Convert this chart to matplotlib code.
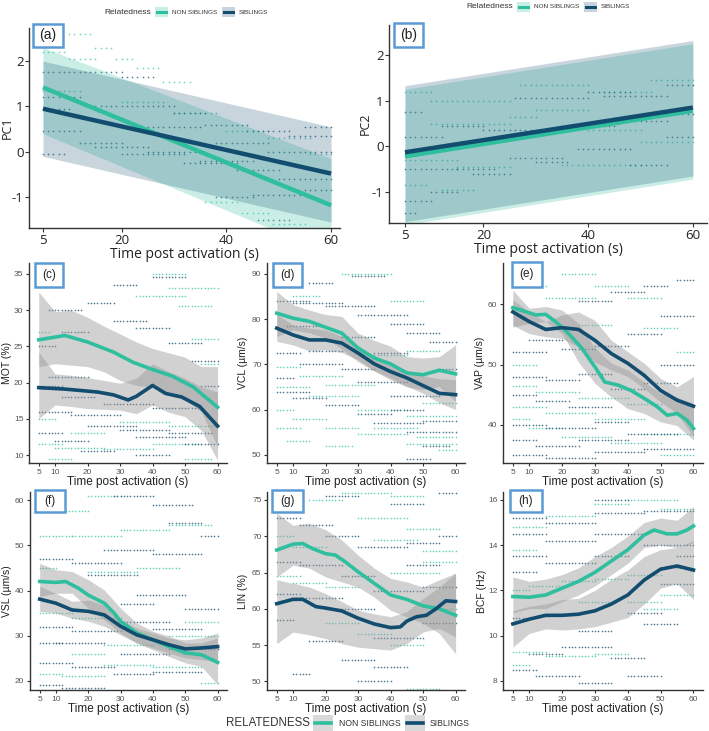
import matplotlib.pyplot as plt
from matplotlib.patches import Rectangle
from matplotlib.lines import Line2D

plt.rcParams['font.family'] = ['Liberation Sans', 'DejaVu Sans']
plt.rcParams['axes.unicode_minus'] = False

TEAL = '#2fbf9f'
NAVY = '#124d70'
TEAL_PT = '#4fcbb0'
NAVY_PT = '#33627f'
BOXBLUE = '#5b9bd5'
W, H = 709, 731

# ---------------- data ----------------
# (a) PC1 linear fits
a_t = [5, 60]
a_non = [1.42, -1.18]
a_sib = [0.95, -0.48]
a_non_lo, a_non_hi = [0.40, -2.25], [2.30, -0.15]
a_sib_lo, a_sib_hi = [-0.10, -1.55], [2.00, 0.55]
# (b) PC2 linear fits
b_t = [5, 60]
b_non = [-0.22, 0.78]
b_sib = [-0.13, 0.85]
b_non_lo, b_non_hi = [-1.72, -0.72], [1.25, 2.25]
b_sib_lo, b_sib_hi = [-1.65, -0.65], [1.33, 2.32]

# raw track runs: (t_start, t_end, value)
a_non_runs = [(10, 14, 2.6), (15, 18, 2.3), (19, 22, 2.05), (23, 27, 1.85), (28, 33, 1.55),
              (5, 9, 2.2), (10, 15, 2.05), (36, 42, -1.1), (43, 48, -1.35), (49, 55, -1.6),
              (40, 48, 0.45), (48, 56, 0.3), (56, 60, -0.05), (30, 38, 0.85), (5, 12, 1.35),
              (20, 28, 1.1)]
a_sib_runs = [(5, 20, 1.75), (20, 26, 1.65), (13, 30, 1.0), (30, 36, 0.85), (36, 44, 0.6),
              (44, 52, 0.45), (52, 60, 0.35), (5, 12, 0.45), (12, 20, 0.2), (20, 32, -0.05),
              (32, 42, -0.25), (42, 50, -0.4), (50, 60, -0.6), (15, 25, 0.1), (25, 35, 0.0),
              (35, 45, -0.2), (45, 55, -0.95), (55, 60, -0.85), (5, 9, -0.05), (38, 45, -1.0),
              (46, 52, -1.5), (5, 10, 0.95), (25, 35, 0.55), (38, 48, 0.2), (48, 60, 0.0),
              (55, 60, 0.55), (5, 12, 1.2)]
b_non_runs = [(5, 10, 1.2), (10, 25, 1.0), (27, 40, 1.35), (43, 52, 1.2), (52, 60, 1.45),
              (10, 25, 0.5), (25, 30, 0.65), (30, 40, 0.8), (5, 15, -0.3), (15, 25, -0.45),
              (35, 50, -0.4), (50, 60, 0.1), (5, 9, -0.85), (12, 18, -0.95), (40, 50, 0.35)]
b_sib_runs = [(5, 8, 0.75), (26, 40, 1.05), (43, 55, 1.1), (55, 60, 1.35), (5, 12, 0.2),
              (12, 20, 0.45), (35, 45, 0.45), (45, 55, 0.55), (55, 60, 0.7), (5, 15, -0.5),
              (15, 22, -0.5), (25, 35, -0.25), (38, 48, -0.05), (48, 55, -0.4), (55, 60, 0.2),
              (5, 10, -1.2), (10, 15, -1.0), (20, 30, 0.35), (30, 36, -0.35), (5, 7, -1.45),
              (18, 25, -0.6), (40, 48, 1.2)]

# loess panels, ribbons at these times
rib_t = [5, 10, 15, 20, 25, 30, 35, 40, 45, 50, 55, 60]

c_non_t = [5, 13, 20, 28, 34, 40, 46, 52.5, 60]
c_non = [25.9, 26.5, 25.6, 24.2, 22.8, 21.8, 20.9, 19.4, 16.6]
c_sib_t = [5, 13, 23, 28, 32.5, 35, 40, 44, 49, 54.5, 60]
c_sib = [19.3, 19.1, 18.7, 18.3, 17.6, 18.1, 19.6, 18.5, 18.0, 16.7, 14.0]
c_non_hi = [32.5, 29.8, 30.0, 29.0, 27.8, 26.7, 25.6, 24.7, 24.1, 23.5, 22.2, 22.2]
c_non_lo = [22.2, 22.6, 22.4, 22.2, 21.5, 20.3, 19.6, 19.4, 18.5, 17.6, 16.0, 11.1]
c_sib_hi = [24.2, 21.2, 21.0, 20.7, 20.3, 19.9, 20.6, 22.6, 21.5, 20.6, 19.4, 18.7]
c_sib_lo = [15.0, 16.9, 16.7, 16.4, 16.3, 16.2, 15.7, 16.9, 15.9, 15.3, 13.4, 9.3]

d_non = [81.3, 80.2, 79.5, 78.2, 76.9, 73.6, 71.4, 70.1, 68.1, 67.7, 68.7, 67.9]
d_sib = [78.0, 76.5, 75.4, 75.4, 74.7, 72.5, 70.1, 68.4, 67.0, 65.3, 63.6, 63.3]
d_non_hi = [86.1, 83.2, 82.0, 81.0, 80.6, 76.9, 75.3, 74.0, 71.7, 71.4, 71.7, 74.3]
d_non_lo = [76.2, 77.6, 77.0, 75.8, 73.4, 70.6, 68.5, 66.6, 65.0, 64.4, 65.1, 61.8]
d_sib_hi = [81.0, 78.7, 78.0, 77.6, 76.2, 74.0, 72.0, 69.9, 68.7, 67.5, 66.8, 66.6]
d_sib_lo = [75.1, 74.3, 73.0, 73.2, 72.6, 71.0, 68.6, 67.0, 65.2, 63.6, 61.5, 60.0]

e_non_t = [5, 8, 12, 15, 18, 22, 26, 30, 33, 37, 41, 45, 49, 52, 55, 58, 60]
e_non = [59.4, 58.9, 58.2, 58.3, 57.1, 55.1, 52.7, 49.6, 47.1, 46.6, 45.7, 44.4, 43.0,
         41.6, 41.9, 40.8, 39.4]
e_sib = [58.7, 57.1, 55.8, 56.1, 55.8, 54.0, 51.8, 50.2, 48.2, 45.7, 44.1, 43.1]
e_non_hi = [62.3, 59.3, 59.6, 59.0, 56.8, 52.7, 50.2, 49.1, 47.1, 45.2, 44.6, 43.5]
e_non_lo = [56.2, 56.8, 57.1, 55.1, 50.4, 46.9, 44.6, 42.7, 41.9, 40.5, 39.9, 37.5]
e_sib_hi = [60.7, 58.7, 57.1, 58.2, 58.7, 57.3, 54.0, 52.1, 50.2, 47.7, 46.3, 48.0]
e_sib_lo = [56.5, 55.1, 54.6, 54.3, 52.9, 50.4, 49.1, 48.0, 46.0, 43.8, 41.9, 38.0]

f_non_t = [5, 10, 13, 17, 20, 25, 28, 30, 35, 40, 45, 50, 55, 60]
f_non = [42.0, 41.8, 42.0, 40.5, 39.0, 37.2, 35.0, 33.2, 30.6, 29.1, 27.6, 26.2, 25.8, 24.1]
f_sib = [38.1, 37.2, 35.7, 35.4, 34.6, 32.1, 30.2, 29.1, 28.0, 27.1, 27.3, 27.6]
f_non_hi = [46.0, 44.6, 44.2, 42.4, 40.1, 36.1, 32.8, 31.0, 29.9, 28.4, 28.4, 29.5]
f_non_lo = [38.7, 39.4, 39.4, 36.1, 33.5, 30.6, 28.4, 26.9, 25.4, 24.0, 23.2, 19.2]
f_sib_hi = [40.9, 39.4, 37.6, 37.9, 36.8, 33.5, 31.7, 30.6, 29.5, 29.1, 29.5, 30.6]
f_sib_lo = [35.4, 35.0, 33.9, 33.2, 32.1, 30.2, 28.4, 27.3, 26.2, 25.1, 24.7, 24.3]

g_non_t = [5, 10, 13, 16, 20, 23, 26, 30, 35, 40, 45, 50, 55, 60]
g_non = [68.1, 68.9, 69.0, 68.3, 67.6, 67.4, 66.5, 65.1, 63.5, 61.9, 61.3, 60.4, 60.0, 59.1]
g_sib_t = [5, 10, 13, 17, 20, 25, 30, 35, 40, 43, 45, 48, 51, 54, 57, 60]
g_sib = [60.7, 61.3, 61.3, 60.3, 60.1, 59.7, 58.7, 57.9, 57.4, 57.5, 58.3, 58.9, 59.1,
         60.0, 61.1, 61.0]
g_non_hi = [73.2, 71.5, 71.8, 70.9, 69.5, 67.4, 65.6, 64.2, 63.7, 63.0, 64.0, 64.9]
g_non_lo = [64.4, 66.0, 65.6, 64.4, 63.7, 63.0, 61.6, 59.8, 58.9, 58.0, 56.6, 53.8]
g_sib_hi = [64.0, 63.5, 63.0, 62.1, 61.0, 59.8, 59.3, 58.9, 59.6, 61.4, 63.0, 64.9]
g_sib_lo = [55.2, 56.8, 56.4, 55.9, 55.2, 54.7, 54.5, 54.3, 55.2, 56.8, 57.3, 56.1]

h_non_t = [5, 10, 15, 20, 25, 30, 35, 40, 45, 48, 52, 55, 58, 60]
h_non = [11.73, 11.70, 11.8, 12.1, 12.4, 12.8, 13.3, 13.8, 14.45, 14.67, 14.5, 14.5, 14.67, 14.85]
h_sib = [10.52, 10.73, 10.9, 10.9, 10.95, 11.1, 11.4, 11.8, 12.46, 12.94, 13.08, 12.9]
h_non_hi = [12.6, 12.4, 12.5, 12.7, 13.0, 13.5, 13.9, 14.4, 15.0, 15.2, 15.1, 15.7]
h_non_lo = [11.0, 11.2, 11.2, 11.5, 11.8, 12.2, 12.7, 13.2, 13.9, 14.0, 13.9, 14.1]
h_sib_hi = [11.1, 11.3, 11.4, 11.6, 11.65, 12.0, 12.5, 12.9, 13.5, 13.8, 13.9, 14.2]
h_sib_lo = [9.5, 10.1, 10.3, 10.25, 10.3, 10.4, 10.6, 10.8, 11.4, 12.1, 12.3, 11.6]

c_non_runs = [(5, 12, 11.5), (10, 25, 11.0), (25, 40, 10.8), (40, 55, 11.5), (30, 45, 14.5),
              (45, 60, 14.0), (5, 10, 15.0), (8, 15, 9.5), (35, 50, 32.0), (45, 60, 33.0),
              (48, 58, 30.5), (52, 60, 26.0), (40, 50, 35.0), (55, 60, 22.5), (5, 8, 27.0),
              (50, 58, 9.5), (15, 25, 13.0)]
c_sib_runs = [(5, 12, 19.5), (8, 20, 20.8), (12, 22, 18.0), (5, 15, 16.0), (15, 30, 15.5),
              (20, 35, 14.0), (30, 45, 13.5), (35, 50, 12.5), (5, 12, 13.0), (10, 20, 12.0),
              (45, 58, 13.0), (50, 60, 11.5), (25, 40, 17.0), (40, 55, 16.5), (8, 18, 30.0),
              (20, 28, 31.0), (28, 38, 28.5), (35, 45, 27.5), (45, 55, 25.5), (52, 60, 23.0),
              (28, 35, 33.5), (40, 50, 34.5), (18, 28, 10.5), (35, 45, 10.0), (12, 20, 27.0),
              (5, 10, 25.0), (55, 60, 19.5)]
d_non_runs = [(5, 10, 60), (10, 20, 58), (20, 30, 56), (30, 45, 54.5), (45, 60, 52.5),
              (5, 15, 65), (15, 30, 63), (30, 45, 60), (45, 60, 58.5), (5, 12, 69.5),
              (12, 25, 67.5), (35, 48, 56), (48, 60, 54), (20, 35, 65.5), (5, 12, 56),
              (20, 28, 52), (35, 45, 72), (45, 55, 73), (10, 18, 85), (25, 40, 90),
              (40, 50, 84), (55, 60, 51), (50, 60, 61.5), (8, 15, 53)]
d_sib_runs = [(5, 15, 84), (10, 25, 83.5), (20, 35, 83), (30, 45, 81), (40, 50, 79),
              (45, 55, 77), (52, 60, 75), (5, 12, 72.5), (12, 25, 70), (25, 35, 69),
              (30, 45, 66), (40, 55, 63), (5, 15, 64), (10, 20, 62.5), (20, 30, 61),
              (30, 40, 59), (35, 50, 57), (45, 60, 55), (50, 60, 57.5), (40, 50, 60),
              (15, 25, 73), (25, 35, 76), (5, 10, 67), (50, 58, 52), (45, 52, 49),
              (35, 45, 72.5), (8, 18, 78.5), (55, 60, 69), (15, 22, 88), (28, 38, 89.5)]
e_non_runs = [(5, 12, 46.5), (12, 25, 45.5), (25, 40, 44.5), (40, 50, 43.5), (5, 15, 43),
              (15, 30, 42), (30, 45, 41), (45, 60, 38.5), (5, 10, 41), (10, 20, 39.5),
              (20, 35, 38), (35, 50, 37), (50, 60, 35), (15, 30, 61), (20, 30, 65),
              (30, 40, 63), (40, 50, 61), (45, 55, 56), (5, 12, 50), (55, 60, 52),
              (8, 15, 63), (25, 35, 56.5)]
e_sib_runs = [(5, 15, 35), (15, 30, 34.5), (30, 45, 35.5), (45, 60, 36), (5, 12, 37.5),
              (12, 25, 36.5), (25, 40, 37.5), (40, 55, 38.5), (5, 15, 40), (15, 30, 39.5),
              (30, 40, 40.5), (5, 12, 45), (12, 22, 44), (22, 35, 43), (5, 15, 48),
              (15, 25, 47.5), (25, 35, 48.5), (35, 45, 46), (45, 55, 47), (50, 60, 50),
              (5, 15, 52), (20, 30, 52.5), (30, 40, 53), (40, 50, 55), (10, 20, 54),
              (50, 60, 58), (25, 35, 60.5), (35, 45, 62), (55, 60, 64), (45, 52, 63)]
f_non_runs = [(5, 15, 52), (15, 30, 52), (30, 45, 53.5), (45, 58, 54.5), (10, 20, 57.5),
              (20, 30, 61), (5, 15, 35), (15, 30, 34), (5, 12, 21.5), (12, 25, 21),
              (25, 40, 23.5), (40, 55, 23), (20, 35, 44), (35, 48, 45), (5, 10, 45),
              (25, 40, 28), (45, 60, 30), (50, 60, 33), (15, 25, 26), (55, 60, 19.5)]
f_sib_runs = [(5, 15, 47), (15, 30, 46), (28, 40, 61), (40, 52, 59), (25, 40, 49),
              (40, 55, 48), (5, 15, 32), (15, 30, 31), (30, 45, 33), (40, 55, 31.5),
              (5, 15, 24), (15, 28, 23), (28, 40, 21.5), (40, 55, 22), (5, 12, 19),
              (12, 25, 18.5), (30, 45, 26), (45, 60, 27), (10, 25, 28.5), (20, 35, 43.5),
              (35, 50, 39), (50, 60, 36), (55, 60, 52), (45, 55, 55), (5, 12, 28.5),
              (30, 40, 37)]
g_non_runs = [(5, 12, 64.5), (10, 20, 63.5), (20, 30, 63), (25, 40, 76), (40, 50, 75.5),
              (30, 45, 72.5), (45, 55, 71), (50, 60, 68), (35, 48, 69.5), (15, 25, 75),
              (40, 55, 65), (50, 60, 66.5), (5, 10, 70), (10, 20, 68.5), (30, 40, 56.5),
              (40, 50, 55), (45, 55, 49), (20, 30, 58), (55, 60, 60)]
g_sib_runs = [(5, 12, 72.5), (12, 22, 71.5), (20, 30, 70), (30, 45, 68.5), (45, 55, 69),
              (55, 60, 70), (5, 12, 66.5), (12, 25, 66), (25, 35, 64.5), (35, 50, 62.5),
              (50, 60, 63), (5, 12, 62), (12, 25, 61.5), (20, 35, 60), (35, 50, 56),
              (50, 60, 58), (15, 25, 55.5), (25, 35, 53), (35, 45, 52), (5, 10, 58.5),
              (45, 55, 66), (10, 15, 51), (30, 40, 50), (20, 30, 75.5), (40, 50, 74.5),
              (55, 60, 76)]
h_non_runs = [(5, 15, 14.8), (15, 30, 15.3), (30, 40, 15.8), (40, 55, 16), (50, 60, 15.6),
              (5, 10, 12), (10, 20, 12.2), (20, 30, 12.4), (30, 40, 12.5), (40, 50, 12.7),
              (5, 15, 9.3), (15, 30, 9.1), (30, 40, 9.2), (5, 10, 8.7), (40, 50, 11.5),
              (50, 60, 11.8), (45, 55, 11.2), (25, 35, 11.5), (5, 12, 13.8), (55, 60, 13)]
h_sib_runs = [(5, 15, 15.2), (15, 30, 15), (30, 45, 15.4), (45, 60, 15.5), (5, 15, 14.5),
              (15, 30, 14.2), (30, 45, 14.5), (45, 60, 14), (5, 15, 13.5), (15, 30, 13.2),
              (30, 40, 13.5), (5, 12, 12.8), (10, 20, 9.2), (20, 35, 9.5), (35, 45, 9),
              (5, 12, 8.5), (12, 25, 8.2), (25, 35, 7.9), (40, 50, 8.2), (40, 50, 11),
              (45, 55, 10.5), (50, 60, 12.3), (5, 10, 10.8), (25, 35, 10.2), (55, 60, 13.5),
              (30, 40, 16)]


def expand(runs):
    tt, vv = [], []
    for t0, t1, v in runs:
        for s in range(t0, t1 + 1):
            tt.append(s)
            vv.append(v)
    return tt, vv


fig = plt.figure(figsize=(7.09, 7.31), dpi=100)


def add_ax(l, r, t, b):
    return fig.add_axes([l / W, 1 - b / H, (r - l) / W, (b - t) / H])


def fx(x):
    return x / W


def fy(y):
    return 1 - y / H


def style(ax, big):
    for s in ['top', 'right']:
        ax.spines[s].set_visible(False)
    for s in ['left', 'bottom']:
        ax.spines[s].set_color('#333333')
        ax.spines[s].set_linewidth(1.0)
    if big:
        ax.tick_params(labelsize=9.5, colors='#333333', length=3, width=0.8,
                       labelcolor='#222222', pad=1)
    else:
        ax.tick_params(labelsize=6, colors='#333333', length=2.5, width=0.8,
                       labelcolor='#555555', pad=1.5)


def tag(l, t, r, b, text, size):
    fig.add_artist(Rectangle((fx(l), fy(b)), (r - l) / W, (b - t) / H,
                             transform=fig.transFigure, fc='white', ec=BOXBLUE, lw=1.8,
                             zorder=10))
    fig.text(fx((l + r) / 2), fy((t + b) / 2), text, ha='center', va='center',
             fontsize=size, color='#222222', zorder=11)


# ---------------- (a) and (b) ----------------
def lin_panel(ax, t, non, sib, nlo, nhi, slo, shi, nruns, sruns, xlim, ylim, ylab, lx):
    tn, vn = expand(nruns)
    ts, vs = expand(sruns)
    ax.scatter(tn, vn, s=1.5, color=TEAL_PT, alpha=0.8, lw=0, zorder=1)
    ax.scatter(ts, vs, s=1.5, color=NAVY_PT, alpha=0.8, lw=0, zorder=1)
    ax.fill_between(t, nlo, nhi, color=TEAL, alpha=0.25, lw=0, zorder=2)
    ax.fill_between(t, slo, shi, color=NAVY, alpha=0.23, lw=0, zorder=2)
    ax.plot(t, non, color=TEAL, lw=3.2, solid_capstyle='butt', zorder=3)
    ax.plot(t, sib, color=NAVY, lw=3.2, solid_capstyle='butt', zorder=4)
    ax.set_xlim(*xlim)
    ax.set_ylim(*ylim)
    ax.set_xticks([5, 20, 40, 60])
    ax.set_yticks([-1, 0, 1, 2])
    style(ax, True)
    ax.set_xlabel('Time post activation (s)', fontsize=10, color='#222222',
                  family=['Open Sans', 'DejaVu Sans'], labelpad=0)
    ax.set_ylabel(ylab, fontsize=9, color='#222222', family=['Open Sans', 'DejaVu Sans'])
    ax.yaxis.set_label_coords(lx, 0.5)
    for lab in ax.get_xticklabels() + ax.get_yticklabels():
        lab.set_family(['Open Sans', 'DejaVu Sans'])


ax_a = add_ax(29, 340, 28, 228)
lin_panel(ax_a, a_t, a_non, a_sib, a_non_lo, a_non_hi, a_sib_lo, a_sib_hi,
          a_non_runs, a_sib_runs, (2.33, 61.7), (-1.68, 2.73), 'PC1', -0.048)
ax_b = add_ax(389, 707, 25, 223)
lin_panel(ax_b, b_t, b_non, b_sib, b_non_lo, b_non_hi, b_sib_lo, b_sib_hi,
          b_non_runs, b_sib_runs, (1.95, 62.7), (-1.68, 2.66), 'PC2', -0.053)


# ---------------- (c)-(h) ----------------
def loess_panel(box, nt, non, st, sib, nlo, nhi, slo, shi, nruns, sruns,
                ylim, yticks, ylab, lx):
    ax = add_ax(*box)
    tn, vn = expand(nruns)
    ts, vs = expand(sruns)
    ax.scatter(tn, vn, s=1.4, color=TEAL_PT, alpha=0.85, lw=0, zorder=1)
    ax.scatter(ts, vs, s=1.4, color=NAVY_PT, alpha=0.85, lw=0, zorder=1)
    ax.fill_between(rib_t, nlo, nhi, color='#999999', alpha=0.45, lw=0, zorder=2)
    ax.fill_between(rib_t, slo, shi, color='#999999', alpha=0.45, lw=0, zorder=2)
    ax.plot(nt, non, color=TEAL, lw=2.6, solid_joinstyle='round', zorder=3)
    ax.plot(st, sib, color=NAVY, lw=2.6, solid_joinstyle='round', zorder=4)
    ax.set_xlim(2.0, 62.9)
    ax.set_ylim(*ylim)
    ax.set_xticks([5, 10, 20, 30, 40, 50, 60])
    ax.set_yticks(yticks)
    style(ax, False)
    ax.set_xlabel('Time post activation (s)', fontsize=8.5, color='#222222', labelpad=0)
    ax.set_ylabel(ylab, fontsize=7.5, color='#222222')
    ax.yaxis.set_label_coords(lx, 0.5)
    return ax


loess_panel((29, 227, 263, 463), c_non_t, c_non, c_sib_t, c_sib, c_non_lo, c_non_hi,
            c_sib_lo, c_sib_hi, c_non_runs, c_sib_runs, (8.9, 36.5),
            [10, 15, 20, 25, 30, 35], 'MOT (%)', -0.088)
loess_panel((267, 465, 263, 463), rib_t, d_non, rib_t, d_sib, d_non_lo, d_non_hi,
            d_sib_lo, d_sib_hi, d_non_runs, d_sib_runs, (48.2, 92.4),
            [50, 60, 70, 80, 90], 'VCL (µm/s)', -0.095)
loess_panel((503, 703, 263, 463), e_non_t, e_non, rib_t, e_sib, e_non_lo, e_non_hi,
            e_sib_lo, e_sib_hi, e_non_runs, e_sib_runs, (33.7, 66.8),
            [40, 50, 60], 'VAP (µm/s)', -0.09)
loess_panel((30, 227, 492, 690), f_non_t, f_non, rib_t, f_sib, f_non_lo, f_non_hi,
            f_sib_lo, f_sib_hi, f_non_runs, f_sib_runs, (18.0, 61.8),
            [20, 30, 40, 50, 60], 'VSL (µm/s)', -0.09)
loess_panel((267, 465, 492, 690), g_non_t, g_non, g_sib_t, g_sib, g_non_lo, g_non_hi,
            g_sib_lo, g_sib_hi, g_non_runs, g_sib_runs, (48.8, 76.1),
            [50, 55, 60, 65, 70, 75], 'LIN (%)', -0.095)
loess_panel((503, 703, 492, 690), h_non_t, h_non, rib_t, h_sib, h_non_lo, h_non_hi,
            h_sib_lo, h_sib_hi, h_non_runs, h_sib_runs, (7.6, 16.35),
            [8, 10, 12, 14, 16], 'BCF (Hz)', -0.08)

# ---------------- panel tags ----------------
tag(33, 24, 63, 47, '(a)', 10)
tag(394, 23, 423, 47, '(b)', 10)
tag(35, 263, 63, 287, '(c)', 8.5)
tag(273, 263, 302, 287, '(d)', 8.5)
tag(512, 262, 542, 287, '(e)', 8.5)
tag(35, 490, 65, 512, '(f)', 8.5)
tag(272, 490, 303, 512, '(g)', 8.5)
tag(510, 490, 542, 512, '(h)', 8.5)


# ---------------- legends ----------------
def key(l, r, t, b, fill, col, lw):
    fig.add_artist(Rectangle((fx(l), fy(b)), (r - l) / W, (b - t) / H,
                             transform=fig.transFigure, fc=fill, ec='none', zorder=10))
    fig.add_artist(Line2D([fx(l + 2), fx(r - 2)], [fy((t + b) / 2)] * 2,
                          transform=fig.transFigure, color=col, lw=lw, zorder=11))


for x0, yc in [(155, 12), (517, 7)]:
    fig.text(fx(x0 - 4), fy(yc), 'Relatedness', fontsize=6, color='#333333',
             ha='right', va='center')
    key(x0, x0 + 13, yc - 5, yc + 5, '#c8efe4', TEAL, 2.2)
    fig.text(fx(x0 + 17), fy(yc), 'NON SIBLINGS', fontsize=4.6, color='#333333', va='center')
    key(x0 + 67, x0 + 80, yc - 5, yc + 5, '#c7d3de', NAVY, 2.2)
    fig.text(fx(x0 + 84), fy(yc), 'SIBLINGS', fontsize=4.6, color='#333333', va='center')

fig.text(fx(310), fy(723), 'RELATEDNESS', fontsize=8.3, color='#333333',
         ha='right', va='center')
key(313, 333, 715, 731, '#d9d9d9', TEAL, 2.6)
fig.text(fx(339), fy(723), 'NON SIBLINGS', fontsize=6.2, color='#333333', va='center')
key(405, 425, 715, 731, '#d9d9d9', NAVY, 2.6)
fig.text(fx(430), fy(723), 'SIBLINGS', fontsize=6.2, color='#333333', va='center')

plt.savefig('out.png', dpi=100)
